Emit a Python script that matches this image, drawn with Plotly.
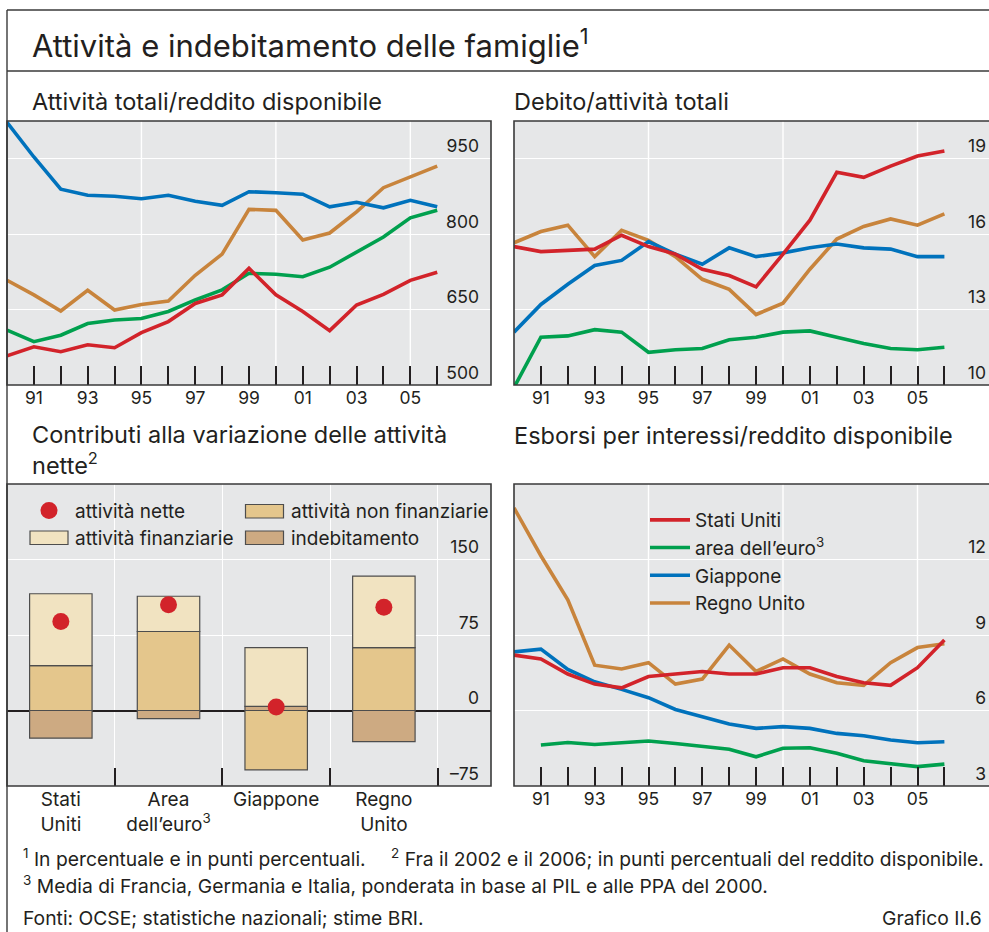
import plotly.graph_objects as go

W, H = 989, 932
FONT = "Inter"

YEARS = list(range(1990, 2007))
YEAR_TICKS = list(range(1991, 2007))
YEAR_LABELS = [f"{y % 100:02d}" if y % 2 == 1 else "" for y in YEAR_TICKS]
GRID_YEARS = [1995, 2000, 2005]

# Attività totali/reddito disponibile
assets_us = [558, 576, 566, 580, 574, 604, 626, 662, 679, 732, 679, 646, 608, 659, 680, 708, 724]
assets_ea = [609, 586, 599, 622, 629, 632, 646, 669, 689, 722, 720, 715, 734, 765, 794, 832, 847]
assets_jp = [1022, 953, 889, 877, 875, 870, 877, 865, 857, 884, 882, 879, 854, 863, 852, 867, 854]
assets_uk = [708, 679, 647, 688, 649, 660, 667, 718, 760, 849, 847, 788, 802, 844, 892, 914, 935]

# Debito/attività totali
debt_us = [15.5, 15.3, 15.35, 15.4, 15.95, 15.5, 15.2, 14.6, 14.35, 13.9, 15.2, 16.55, 18.45, 18.25, 18.7, 19.1, 19.3]
debt_ea = [9.9, 11.9, 11.95, 12.2, 12.1, 11.3, 11.4, 11.45, 11.8, 11.9, 12.1, 12.15, 11.9, 11.65, 11.45, 11.4, 11.5]
debt_jp = [12.1, 13.2, 14.0, 14.75, 14.95, 15.7, 15.2, 14.8, 15.45, 15.1, 15.25, 15.45, 15.6, 15.45, 15.4, 15.1, 15.1]
debt_uk = [15.65, 16.1, 16.35, 15.1, 16.15, 15.75, 15.1, 14.2, 13.8, 12.8, 13.25, 14.6, 15.8, 16.3, 16.6, 16.35, 16.8]

# Esborsi per interessi/reddito disponibile
int_us = [8.2, 8.05, 7.45, 7.05, 6.9, 7.35, 7.45, 7.55, 7.45, 7.45, 7.7, 7.7, 7.35, 7.1, 7.0, 7.7, 8.8]
int_ea = [None, 4.63, 4.73, 4.65, 4.72, 4.79, 4.69, 4.56, 4.46, 4.16, 4.5, 4.52, 4.3, 4.0, 3.9, 3.77, 3.87]
int_jp = [8.33, 8.44, 7.63, 7.14, 6.84, 6.51, 6.04, 5.75, 5.46, 5.29, 5.36, 5.29, 5.09, 5.0, 4.83, 4.72, 4.76]
int_uk = [14.05, 12.15, 10.4, 7.8, 7.65, 7.9, 7.05, 7.25, 8.6, 7.55, 8.05, 7.45, 7.1, 7.0, 7.9, 8.5, 8.65]

# Contributi alla variazione delle attività nette
countries = ["Stati<br>Uniti", "Area<br>dell’euro<sup>3</sup>", "Giappone", "Regno<br>Unito"]
country_pos = [0, 1, 2, 3]
contrib_debt = [-27.5, -8, 4, -31]
contrib_nonfin = [44.5, 78.5, -59, 62.5]
contrib_fin = [71.5, 35, 58.5, 71]
contrib_net = [88.5, 105, 3.5, 102.5]

RED, GREEN, BLUE, BROWN = "#D2232A", "#00A04E", "#0072BC", "#C8843C"
C_FIN, C_NONFIN, C_DEBT = "#F1E3C1", "#E4C68C", "#CDAA82"
BG = "#E6E7E8"


def px(x):
    return x / W


def py(y):
    return 1 - y / H


fig = go.Figure()

series = [
    ("Regno Unito", BROWN, assets_uk, debt_uk, int_uk, 4),
    ("Giappone", BLUE, assets_jp, debt_jp, int_jp, 3),
    ("area dell’euro<sup>3</sup>", GREEN, assets_ea, debt_ea, int_ea, 2),
    ("Stati Uniti", RED, assets_us, debt_us, int_us, 1),
]
for name, color, a, d, i, rank in series:
    line = dict(color=color, width=3.6)
    fig.add_trace(go.Scatter(x=YEARS, y=a, mode="lines", line=line, showlegend=False,
                             xaxis="x", yaxis="y"))
    fig.add_trace(go.Scatter(x=YEARS, y=d, mode="lines", line=line, showlegend=False,
                             xaxis="x2", yaxis="y2"))
    fig.add_trace(go.Scatter(x=YEARS, y=i, mode="lines", line=line, name=name,
                             legendgroup=name, legendrank=rank,
                             xaxis="x4", yaxis="y4"))

bar_line = dict(color="#4d4d4d", width=1.2)
for vals, color in [(contrib_debt, C_DEBT), (contrib_nonfin, C_NONFIN), (contrib_fin, C_FIN)]:
    fig.add_trace(go.Bar(x=country_pos, y=vals, width=0.58, marker=dict(color=color, line=bar_line),
                         showlegend=False, xaxis="x3", yaxis="y3"))
fig.add_trace(go.Scatter(x=country_pos, y=contrib_net, mode="markers",
                         marker=dict(color=RED, size=17), showlegend=False,
                         xaxis="x3", yaxis="y3"))

top_dom = [py(385), py(121)]
bot_dom = [py(786), py(484)]
left_dom = [px(7), px(491)]
right_dom = [px(514), 1.0]

tickfont = dict(family=FONT, size=17.5, color="#231f20")


def year_axis(domain, rng, anchor):
    return dict(domain=domain, range=rng, anchor=anchor, tickmode="array",
                tickvals=YEAR_TICKS, ticktext=YEAR_LABELS, ticks="inside", ticklen=19,
                tickwidth=1.5, tickcolor="#231f20", showgrid=False, zeroline=False,
                tickfont=tickfont, showline=False)


def value_axis(domain, rng, anchor, vals, standoff):
    return dict(domain=domain, range=rng, anchor=anchor, side="right", tickmode="array",
                tickvals=vals, ticks="", showgrid=True, gridcolor="white", gridwidth=1.4,
                zeroline=False, ticklabelposition="inside top",
                ticklabelstandoff=standoff, tickfont=tickfont, showline=False)


fig.update_layout(
    width=W, height=H, margin=dict(l=0, r=0, t=0, b=0),
    paper_bgcolor="white", plot_bgcolor=BG, barmode="relative",
    font=dict(family=FONT, color="#231f20"),
    xaxis=year_axis(left_dom, [1990, 2008], "y"),
    yaxis=value_axis(top_dom, [500, 1024.5], "x", [500, 650, 800, 950], 9),
    xaxis2=year_axis(right_dom, [1990, 1990 + 475 / 26.9], "y2"),
    yaxis2=value_axis(top_dom, [10, 20.49], "x2", [10, 13, 16, 19], 0),
    xaxis3=dict(domain=left_dom, range=[-0.5, 3.995], anchor="y3", tickmode="array",
                tickvals=country_pos, ticktext=countries, ticks="", showgrid=False,
                zeroline=False, tickfont=dict(family=FONT, size=19, color="#231f20"),
                minor=dict(tickmode="array", tickvals=[0.5, 1.5, 2.5, 3.5], ticks="inside",
                           ticklen=18, tickwidth=1.5, tickcolor="#231f20", showgrid=True,
                           gridcolor="white", gridwidth=1.4)),
    yaxis3=dict(value_axis(bot_dom, [-75, 225], "x3", [-75, 0, 75, 150], 9),
                zeroline=True, zerolinecolor="#231f20", zerolinewidth=2,
                ticktext=["–75", "0", "75", "150"]),
    xaxis4=year_axis(right_dom, [1990, 1990 + 475 / 26.9], "y4"),
    yaxis4=value_axis(bot_dom, [3, 15], "x4", [3, 6, 9, 12], 0),
    legend=dict(x=px(645), y=py(501), xanchor="left", yanchor="top",
                bgcolor="rgba(0,0,0,0)", font=dict(family=FONT, size=19, color="#231f20"),
                itemwidth=40, traceorder="grouped", tracegroupgap=0),
)

shapes = []
# vertical grid lines of the time-series panels
for xa, ya in [("x", "y"), ("x2", "y2"), ("x4", "y4")]:
    for yr in GRID_YEARS:
        shapes.append(dict(type="line", xref=xa, yref=f"{ya} domain", x0=yr, x1=yr, y0=0, y1=1,
                           line=dict(color="white", width=1.4), layer="below"))
# panel frames
for xa, ya, x1 in [("x", "y", 1), ("x2", "y2", 1.02), ("x3", "y3", 1), ("x4", "y4", 1.02)]:
    shapes.append(dict(type="rect", xref=f"{xa} domain", yref=f"{ya} domain", x0=0, x1=x1,
                       y0=0, y1=1, line=dict(color="#3a3a3a", width=1.6), layer="above"))
# outer frame
shapes += [
    dict(type="line", xref="paper", yref="paper", x0=px(7), x1=1, y0=py(10), y1=py(10),
         line=dict(color="#3a3a3a", width=1.4)),
    dict(type="line", xref="paper", yref="paper", x0=px(7), x1=1, y0=py(71), y1=py(71),
         line=dict(color="#3a3a3a", width=1.4)),
    dict(type="line", xref="paper", yref="paper", x0=px(7), x1=px(7), y0=py(10), y1=0,
         line=dict(color="#3a3a3a", width=1.4)),
]
# legend of the bar panel
box_line = dict(color="#4d4d4d", width=1.2)
for (x0, y0), color in [((245.5, 504.5), C_NONFIN), ((30, 531), C_FIN), ((245.5, 531), C_DEBT)]:
    shapes.append(dict(type="rect", xref="paper", yref="paper", x0=px(x0), x1=px(x0 + 38),
                       y0=py(y0 + 13.5), y1=py(y0), fillcolor=color, line=box_line))
shapes.append(dict(type="circle", xref="paper", yref="paper", x0=px(40.5), x1=px(57.5),
                   y0=py(519), y1=py(502), fillcolor=RED, line=dict(width=0)))
fig.update_layout(shapes=shapes)


def text(x, y, s, size, anchor="left"):
    fig.add_annotation(x=px(x), y=py(y), xref="paper", yref="paper", text=s, showarrow=False,
                       xanchor=anchor, yanchor="middle", align=anchor,
                       font=dict(family=FONT, size=size, color="#231f20"))


text(30, 44, "Attività e indebitamento delle famiglie<sup>1</sup>", 31)
text(30, 101, "Attività totali/reddito disponibile", 23.5)
text(512, 101, "Debito/attività totali", 23.5)
text(30, 434, "Contributi alla variazione delle attività", 23.5)
text(30, 464, "nette<sup>2</sup>", 23.5)
text(512, 435, "Esborsi per interessi/reddito disponibile", 23.5)

text(73, 511, "attività nette", 19)
text(289, 511, "attività non finanziarie", 19)
text(73, 538, "attività finanziarie", 19)
text(289, 538, "indebitamento", 19)

FOOT = 19.3
text(21, 858, "<sup>1</sup>\u00a0In percentuale e in punti percentuali.", FOOT)
text(389, 858, "<sup>2</sup>\u00a0Fra il 2002 e il 2006; in punti percentuali del reddito disponibile.", FOOT)
text(21, 885, "<sup>3</sup>\u00a0Media di Francia, Germania e Italia, ponderata in base al PIL e alle PPA del 2000.", FOOT)
text(21, 918, "Fonti: OCSE; statistiche nazionali; stime BRI.", FOOT)
text(984, 918, "Grafico II.6", FOOT, anchor="right")

fig.write_html("out.html", config={"displayModeBar": False},
               post_script="document.body.style.margin = '0';")
